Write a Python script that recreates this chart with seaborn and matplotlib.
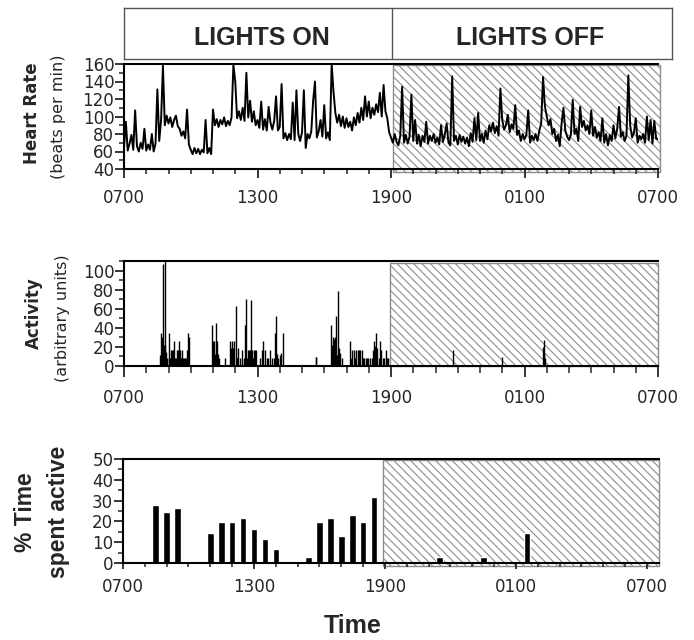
import numpy as np
import matplotlib.pyplot as plt
import seaborn as sns
from matplotlib.patches import Rectangle
from matplotlib.ticker import MultipleLocator

sns.set_style('white')
plt.rcParams['font.family'] = ['DejaVu Sans']
plt.rcParams['hatch.linewidth'] = 0.8

# ---------------------------------------------------------------
# data (hours after 0700)
# ---------------------------------------------------------------
# heart rate, one value every 5 minutes (12 per hour), 0700 -> 0700
hr_bpm = [
    64, 94, 61, 69, 79, 62, 107, 66, 60, 70, 63, 86,      # 0700
    61, 68, 62, 80, 60, 69, 131, 72, 96, 158, 90, 101,    # 0800
    92, 99, 88, 96, 101, 89, 86, 78, 83, 75, 108, 68,     # 0900
    62, 57, 64, 58, 63, 57, 62, 59, 96, 58, 64, 57,       # 1000
    108, 90, 97, 88, 96, 91, 99, 89, 95, 90, 99, 159,     # 1100
    140, 98, 106, 96, 110, 95, 150, 99, 118, 94, 106, 90,  # 1200
    96, 87, 117, 85, 97, 84, 111, 93, 85, 95, 123, 84,    # 1300
    88, 137, 75, 81, 73, 80, 74, 116, 73, 130, 80, 72,    # 1400
    82, 130, 64, 80, 75, 83, 118, 140, 76, 83, 96, 77,    # 1500
    113, 75, 82, 73, 160, 128, 104, 93, 102, 89, 100, 87,  # 1600
    98, 88, 94, 84, 99, 90, 104, 93, 110, 96, 123, 100,   # 1700
    117, 98, 110, 102, 114, 105, 127, 100, 136, 106, 98, 82,  # 1800
    76, 70, 80, 71, 67, 78, 134, 70, 79, 69, 77, 125,     # 1900
    72, 96, 69, 79, 66, 78, 71, 94, 69, 78, 72, 80,       # 2000
    70, 76, 68, 90, 71, 79, 92, 70, 67, 146, 72, 78,      # 2100
    68, 79, 71, 77, 69, 76, 66, 81, 71, 98, 73, 104,      # 2200
    72, 80, 70, 84, 74, 90, 83, 93, 81, 89, 78, 132,      # 2300
    96, 85, 90, 102, 82, 91, 86, 113, 79, 84, 72, 80,     # 0000
    74, 79, 107, 70, 78, 73, 80, 72, 84, 92, 145, 112,    # 0100
    100, 90, 97, 80, 86, 72, 79, 66, 92, 110, 84, 77,     # 0200
    73, 79, 119, 80, 86, 72, 111, 88, 95, 84, 90, 80,     # 0300
    107, 78, 88, 76, 82, 72, 98, 70, 80, 67, 79, 72,      # 0400
    90, 75, 86, 111, 77, 82, 72, 78, 147, 90, 76, 81,     # 0500
    98, 70, 78, 74, 80, 70, 100, 73, 96, 69, 95, 75,      # 0600
    74,
]
hr_hours = np.arange(len(hr_bpm)) * 5 / 60

# activity counts (arbitrary units)
act_hours = [
    1.618, 1.663, 1.708, 1.738, 1.753, 1.783, 1.828, 1.858, 1.873, 1.918,
    2.007, 2.037, 2.067, 2.112, 2.142, 2.172, 2.217, 2.262, 2.292, 2.337,
    2.367, 2.397, 2.427, 2.457, 2.487, 2.517, 2.547, 2.592, 2.627, 2.667,
    2.700, 2.756, 2.786, 2.816, 2.850, 2.891, 2.936,
    3.970, 4.000, 4.015, 4.060, 4.090, 4.120, 4.165, 4.210, 4.255, 4.554,
    4.764, 4.794, 4.809, 4.854, 4.884, 4.914, 4.959, 5.019, 5.064, 5.100,
    5.139, 5.213, 5.318, 5.393, 5.453, 5.498, 5.543, 5.573, 5.603, 5.633,
    5.663, 5.723, 5.768, 5.800, 5.828, 5.888, 5.933,
    6.112, 6.187, 6.262, 6.337, 6.412, 6.487, 6.562, 6.652, 6.742, 6.787,
    6.831, 6.870, 6.936, 7.011, 7.071, 7.131,
    8.614, 8.650,
    9.318, 9.363, 9.393, 9.423, 9.483, 9.528, 9.573, 9.618, 9.663, 9.723, 9.783,
    10.142, 10.202, 10.262, 10.322, 10.382, 10.442, 10.502, 10.562, 10.622,
    10.682, 10.742, 10.802, 10.862, 10.921, 10.981, 11.056, 11.131, 11.206,
    11.251, 11.296, 11.341, 11.386, 11.446, 11.506, 11.566, 11.626, 11.686,
    11.760, 11.805, 11.865,
    14.77, 17.00, 18.83, 18.86, 18.89, 18.92,
]
act_values = [
    12, 35, 31, 17, 107, 22, 110, 22, 15, 8,
    35, 8, 8, 17, 17, 8, 17, 26, 8, 8,
    8, 17, 17, 26, 8, 17, 8, 8, 17, 8,
    8, 8, 8, 17, 8, 35, 31,
    43, 26, 21, 26, 13, 45, 26, 13, 8, 8,
    26, 17, 19, 26, 17, 19, 26, 63, 8, 8,
    19, 8, 17, 8, 43, 71, 8, 17, 17, 8,
    17, 69, 17, 8, 17, 17, 17,
    8, 17, 26, 17, 8, 8, 17, 8, 8, 35,
    53, 13, 8, 12, 14, 35,
    9, 9,
    43, 22, 30, 28, 31, 53, 12, 79, 19, 14, 8,
    26, 8, 17, 17, 8, 17, 17, 17, 17,
    17, 8, 8, 8, 8, 8, 8, 8, 17,
    26, 21, 35, 19, 8, 26, 17, 8, 8,
    17, 8, 8,
    17, 9, 20, 27, 14, 8,
]

# % time spent active, half-hour bins
pct_hours = [1.5, 2.0, 2.5, 3.5, 4.0, 4.5, 5.0, 5.5, 6.0, 6.5, 7.0,
             8.5, 9.0, 9.5, 10.0, 10.5, 11.0, 11.5, 14.5, 16.5, 18.5]
pct_values = [28, 24.5, 26.5, 1, 14.5, 19.5, 19.5, 21.5, 16.5, 11.5, 6.5,
              3, 19.5, 21.5, 13, 23, 19.5, 31.5, 3, 3, 14.5]

tick_pos = [0, 6, 12, 18, 24]
tick_labels = ['0700', '1300', '1900', '0100', '0700']

# ---------------------------------------------------------------
# figure
# ---------------------------------------------------------------
W, H = 694, 640
fig = plt.figure(figsize=(W / 100, H / 100), dpi=100)

ax1 = fig.add_axes([124 / W, 1 - 169 / H, 534 / W, 105 / H])
ax2 = fig.add_axes([124 / W, 1 - 366 / H, 534 / W, 105 / H])
ax3 = fig.add_axes([123 / W, 1 - 563 / H, 536 / W, 104 / H])
banner = fig.add_axes([124 / W, 1 - 59 / H, 548 / W, 51 / H])

hatch_kw = dict(facecolor='white', edgecolor='#8c8c8c', hatch='\\\\\\\\', lw=1.0,
                zorder=0.5, clip_on=False)


def style_axis(ax, ymajor, yminor, xlen, xpad):
    for s in ['left', 'bottom', 'top']:
        ax.spines[s].set_visible(True)
        ax.spines[s].set_color('black')
        ax.spines[s].set_linewidth(1.5)
    ax.spines['right'].set_visible(False)
    ax.xaxis.set_major_locator(MultipleLocator(6))
    ax.xaxis.set_minor_locator(MultipleLocator(1))
    ax.set_xticks(tick_pos)
    ax.set_xticklabels(tick_labels)
    ax.yaxis.set_major_locator(MultipleLocator(ymajor))
    ax.yaxis.set_minor_locator(MultipleLocator(yminor))
    ax.tick_params(axis='x', which='major', direction='out', length=xlen,
                   width=1.3, pad=xpad, labelsize=12, bottom=True, top=False)
    ax.tick_params(axis='x', which='minor', direction='out', length=xlen * 0.6,
                   width=1.1, bottom=True, top=False)
    ax.tick_params(axis='y', which='major', direction='out', length=6.5,
                   width=1.3, pad=0.5, labelsize=12, left=True, right=False)
    ax.tick_params(axis='y', which='minor', direction='out', length=3.8,
                   width=1.1, left=True, right=False)
    ax.set_xlabel('')
    ax.set_ylabel('')


# 1. heart rate
ax1.add_patch(Rectangle((12.08, 36.5), 12.02, 122.0, **hatch_kw))
sns.lineplot(x=hr_hours, y=hr_bpm, color='black', linewidth=1.4, ax=ax1)
ax1.set_xlim(0, 24)
ax1.set_ylim(40, 160)
style_axis(ax1, 20, 10, 6.5, 8)

# 2. activity
ax2.add_patch(Rectangle((11.97, 0.5), 12.03, 107.5, **hatch_kw))
ax2.vlines(act_hours, 0, act_values, color='black', linewidth=1.0, zorder=2)
ax2.set_xlim(0, 24)
ax2.set_ylim(0, 110.5)
style_axis(ax2, 20, 10, 8, 8.7)

# 3. % time spent active
ax3.add_patch(Rectangle((11.92, -1.6), 12.63, 51.1, **hatch_kw))
sns.barplot(x=pct_hours, y=pct_values, native_scale=True, color='black',
            saturation=1, width=0.6, errorbar=None, ax=ax3, zorder=2)
ax3.set_xlim(0, 24.55)
ax3.set_ylim(0, 50)
style_axis(ax3, 10, 5, 4.5, 6.5)

# banner
banner.set_xlim(0, 1)
banner.set_ylim(0, 1)
banner.set_xticks([])
banner.set_yticks([])
for s in banner.spines.values():
    s.set_visible(True)
    s.set_color('#555555')
    s.set_linewidth(1.0)
banner.axvline(268 / 548, color='#555555', lw=1.0)
banner.text(0.2518, 0.42, 'LIGHTS ON', ha='center', va='center', fontsize=18,
            fontweight='bold', family=['Liberation Sans', 'DejaVu Sans'])
banner.text(0.741, 0.42, 'LIGHTS OFF', ha='center', va='center', fontsize=18,
            fontweight='bold', family=['Liberation Sans', 'DejaVu Sans'])

# y labels
fig.text(32 / W, 1 - 113 / H, 'Heart Rate', rotation=90, ha='center', va='center',
         fontsize=12, fontweight='bold')
fig.text(58 / W, 1 - 117 / H, '(beats per min)', rotation=90, ha='center', va='center',
         fontsize=11.5)
fig.text(34 / W, 1 - 313 / H, 'Activity', rotation=90, ha='center', va='center',
         fontsize=12, fontweight='bold')
fig.text(62 / W, 1 - 318 / H, '(arbitrary units)', rotation=90, ha='center', va='center',
         fontsize=11.5)
fig.text(25 / W, 1 - 512 / H, '% Time', rotation=90, ha='center', va='center',
         fontsize=16.5, fontweight='bold', family=['Liberation Sans', 'DejaVu Sans'])
fig.text(59 / W, 1 - 512 / H, 'spent active', rotation=90, ha='center', va='center',
         fontsize=16.5, fontweight='bold', family=['Liberation Sans', 'DejaVu Sans'])

# x label
fig.text(353 / W, 1 - 633 / H, 'Time', ha='center', va='baseline', fontsize=18,
         fontweight='bold', family=['Liberation Sans', 'DejaVu Sans'])

plt.savefig('out.png', dpi=100)
plt.close()
